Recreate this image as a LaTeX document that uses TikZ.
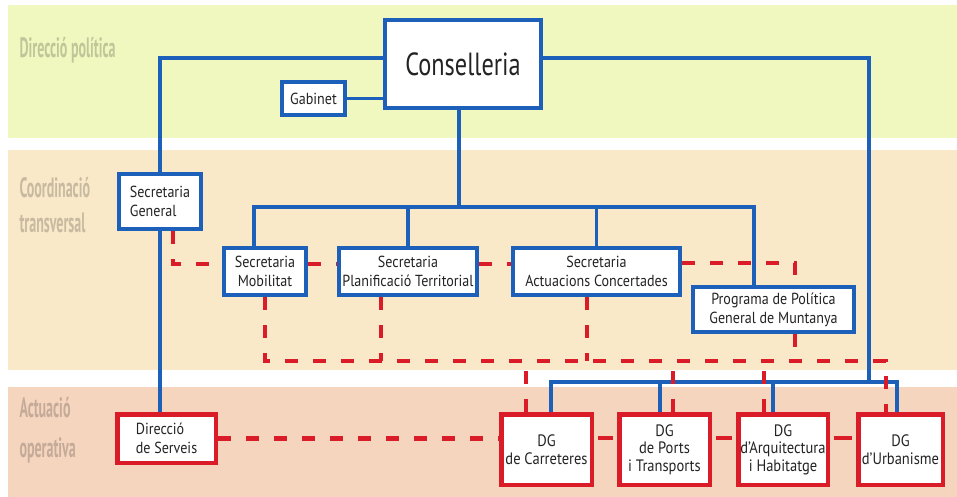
\documentclass[tikz,border=0pt]{standalone}
\usepackage{fontspec}
\setmainfont{PT Sans}[FakeStretch=0.88]
\newfontfamily\titlefont{PT Sans}[FakeStretch=0.76]
\newfontfamily\bandfont{PT Sans}[UprightFont={* Bold}, FakeStretch=0.5]
\definecolor{orgblue}{RGB}{28, 96, 186}
\definecolor{orgred}{RGB}{218, 28, 40}
\definecolor{bandyellow}{RGB}{240, 248, 192}
\definecolor{bandpeach}{RGB}{250, 233, 201}
\definecolor{bandsalmon}{RGB}{246, 213, 190}
\definecolor{textdark}{RGB}{35, 35, 35}
\usetikzlibrary{positioning, calc}

\begin{document}
\begin{tikzpicture}[x=1pt, y=-1pt,
  bluebox/.style={draw=orgblue, line width=3.8pt, fill=white, inner sep=2pt, align=center,
    font=\fontsize{16}{19}\selectfont, text=textdark},
  redbox/.style={bluebox, draw=orgred, line width=4.5pt},
  bluelink/.style={orgblue, line width=3.5pt},
  redlink/.style={orgred, line width=4.5pt, dash pattern=on 13pt off 15pt},
  shortlink/.style={orgred, line width=4.5pt, shorten <=4pt, shorten >=4pt},
  bandlabel/.style={anchor=west, align=left, text=black, text opacity=0.2,
    font=\bandfont\fontsize{28}{35}\selectfont}]
  \useasboundingbox (0,0) rectangle (957,497);

  % Bands
  \fill[bandyellow] (8,5) rectangle (957,138);
  \fill[bandpeach] (8,150) rectangle (957,370);
  \fill[bandsalmon] (8,387) rectangle (957,497);
  \node[bandlabel] (lpol) at (16,50) {Direcció política};
  \node[bandlabel] (lcoord) at (16,205.5) {Coordinació\\transversal};
  \node[bandlabel, font=\bandfont\fontsize{28}{40}\selectfont] (lact) at (16,430) {Actuació\\operativa};

  % Boxes
  \node[bluebox, minimum width=156.5pt, minimum height=88.5pt,
    font=\titlefont\fontsize{32}{34}\selectfont] (cons) at (463,64) {Conselleria};
  \node[bluebox, minimum width=63.5pt, minimum height=33.5pt] (gab) at (313.5,98.5) {Gabinet};
  \node[bluebox, align=left, minimum width=82.5pt, minimum height=55.5pt] (sg) at (160,201.5) {Secretaria\\General};
  \node[bluebox, minimum width=82.5pt, minimum height=47.5pt] (mob) at (265,271.5) {Secretaria\\Mobilitat};
  \node[bluebox, minimum width=138.5pt, minimum height=47.5pt] (plan) at (408,271.5) {Secretaria\\Planificació Territorial};
  \node[bluebox, minimum width=167.5pt, minimum height=47.5pt] (act) at (596.5,271.5) {Secretaria\\Actuacions Concertades};
  \node[bluebox, minimum width=161.5pt, minimum height=45.5pt] (prog) at (773.5,309.5) {Programa de Política\\General de Muntanya};
  \node[redbox, align=left, minimum width=98.5pt, minimum height=48.5pt] (serv) at (166.5,438.5) {Direcció\\de Serveis};
  \foreach \n/\x/\w/\t in {carr/546.5/90.5/{DG\\de Carreteres}, ports/664.5/90.5/{DG\\de Ports\\i Transports},
      arq/783/89.5/{DG\\d'Arquitectura\\i Habitatge}, urb/900.5/84.5/{DG\\d'Urbanisme}} {
    \node[redbox, minimum width=\w pt, minimum height=70.5pt, font=\fontsize{16.5}{17.5}\selectfont] (\n) at (\x,449.5) {\t};
  }

  % Hierarchy (blue)
  \coordinate (secbus) at (459,207);
  \coordinate (dgbus) at (869,382);
  \draw[bluelink] ([yshift=6pt]cons.west) -| (sg.north);
  \draw[bluelink] (sg.south) -- (sg.south |- serv.north);
  \draw[bluelink] (gab.east) -- (gab.east -| cons.west);
  \draw[bluelink] (cons.south -| secbus) -- (secbus);
  \draw[bluelink] ([xshift=-11pt]mob.north) |- ([xshift=-19.5pt]prog.north |- secbus) -- ([xshift=-19.5pt]prog.north);
  \foreach \n in {plan, act}
    \draw[bluelink] (\n.north) -- (\n.north |- secbus);
  \draw[bluelink] ([yshift=6pt]cons.east) -| (dgbus);
  \draw[bluelink] ([xshift=4.5pt]carr.north) |- ([xshift=-3.5pt]urb.north |- dgbus) -- ([xshift=-3.5pt]urb.north);
  \foreach \n/\s in {ports/-4.5, arq/-10}
    \draw[bluelink] ([xshift=\s pt]\n.north) -- ([xshift=\s pt]\n.north |- dgbus);

  % Coordination (red, dashed)
  \coordinate (lowbus) at (886,361);
  \draw[redlink] ([xshift=13pt]sg.south) |- ([yshift=7.5pt]mob.west);
  \foreach \a/\b in {mob/plan, plan/act}
    \draw[redlink] ([yshift=7.5pt]\a.east) -- ([yshift=7.5pt]\b.west);
  \draw[redlink] ([yshift=8.5pt]act.east) -| ([xshift=21.5pt]prog.north);
  \draw[redlink] (mob.south) |- (lowbus) -- (lowbus |- urb.north);
  \foreach \n/\s in {plan/-27, act/-9.5, prog/21.5}
    \draw[redlink] ([xshift=\s pt]\n.south) -- ([xshift=\s pt]\n.south |- lowbus);
  \foreach \n/\s in {carr/-20.5, ports/8.5, arq/-19}
    \draw[redlink] ([xshift=\s pt]\n.north) -- ([xshift=\s pt]\n.north |- lowbus);
  \draw[redlink] (serv.east) -- (serv.east -| carr.west);
  \foreach \a/\b in {carr/ports, ports/arq, arq/urb}
    \draw[shortlink] ([yshift=11.5pt]\a.east) -- ([yshift=11.5pt]\b.west);
\end{tikzpicture}
\end{document}
